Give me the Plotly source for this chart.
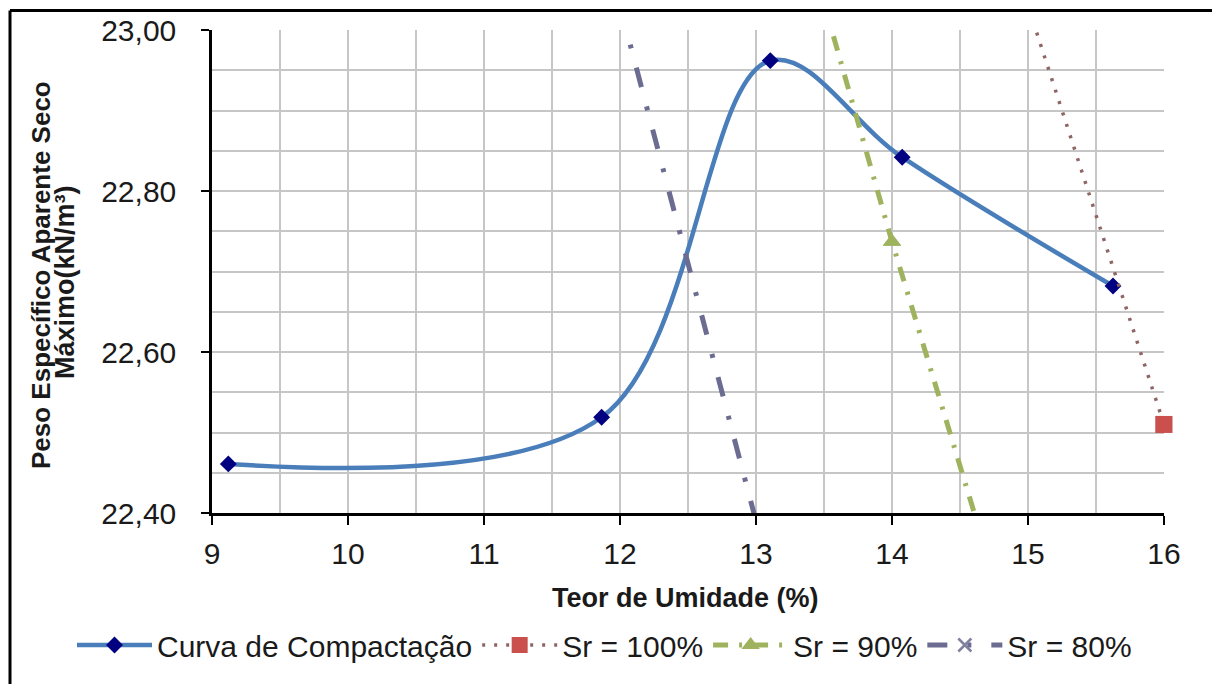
import plotly.graph_objects as go

# Curva de Compactação
w_curva = [9.12, 11.865, 13.105, 14.075, 15.625]
g_curva = [22.461, 22.519, 22.962, 22.842, 22.682]

# Saturation lines
w_sr = [12, 13, 14, 15, 16]
g_sr100 = [24.74, 24.14, 23.57, 23.03, 22.51]
g_sr90 = [23.95, 23.33, 22.737, 22.18, 21.65]
g_sr80 = [23.03, 22.39, 21.78, 21.22, 20.70]

x_range = [9, 16]
y_range = [22.4, 23.0]

FONT = "Liberation Sans, Arial, sans-serif"
L, R, T, B = 212, 48, 30, 171
PW, PH = 1212 - L - R, 684 - T - B

def px_x(px):
    return (px - L) / PW

def px_y(py):
    return (684 - B - py) / PH

fig = go.Figure()

def add_sr(name, ys, color, dash, width, symbol, msize, mcolor):
    fig.add_trace(go.Scatter(
        x=w_sr, y=ys, name=name, mode="lines+markers",
        line=dict(color=color, width=width, dash=dash),
        marker=dict(symbol=symbol, size=msize, color=mcolor,
                    line=dict(width=2.5 if symbol == "x-thin" else 0, color=mcolor)),
        cliponaxis=True,
    ))
    xs_in = [x for x, y in zip(w_sr, ys) if y_range[0] <= y <= y_range[1]]
    ys_in = [y for y in ys if y_range[0] <= y <= y_range[1]]
    fig.add_trace(go.Scatter(
        x=xs_in, y=ys_in, mode="markers", showlegend=False, hoverinfo="skip",
        marker=dict(symbol=symbol, size=msize, color=mcolor),
        cliponaxis=False,
    ))

fig.add_trace(go.Scatter(
    x=w_curva, y=g_curva, name="Curva de Compactação", mode="lines+markers",
    line=dict(color="#4a7ebb", width=4.5, shape="spline", smoothing=1.0),
    marker=dict(symbol="diamond", size=13, color="#000080"),
    cliponaxis=False,
))
add_sr("Sr = 100%", g_sr100, "#8e6464", "3px,9px", 3.5, "square", 17, "#c9504d")
add_sr("Sr = 90%", g_sr90, "#9fb35f", "15px,11px,3px,11px", 5, "triangle-up", 16, "#9fb35f")
add_sr("Sr = 80%", g_sr80, "#6c6c92", "20px,20px,4px,20px", 5, "x-thin", 13, "#8080a0")

fig.update_layout(
    width=1212, height=684,
    margin=dict(l=L, r=R, t=T, b=B, autoexpand=False),
    paper_bgcolor="white", plot_bgcolor="white",
    separators=", ",
    font=dict(family=FONT, size=30, color="#1a1a1a"),
    showlegend=True,
    legend=dict(orientation="h", xref="paper", yref="paper",
                x=px_x(72), xanchor="left", y=px_y(645), yanchor="middle",
                font=dict(size=30, family=FONT), itemwidth=75,
                tracegroupgap=0, bgcolor="rgba(0,0,0,0)"),
    xaxis=dict(range=x_range, dtick=1, tick0=9, showgrid=True,
               gridcolor="#c6c6c6", gridwidth=2,
               minor=dict(dtick=0.5, showgrid=True, gridcolor="#c6c6c6", gridwidth=2),
               showline=True, linecolor="black", linewidth=2.5,
               ticks="outside", ticklen=9, tickcolor="black", tickwidth=2,
               ticklabelstandoff=3,
               zeroline=False, tickfont=dict(size=30, family=FONT)),
    yaxis=dict(range=y_range, dtick=0.2, tick0=22.4, tickformat=".2f", showgrid=True,
               gridcolor="#c6c6c6", gridwidth=2,
               minor=dict(dtick=0.05, showgrid=True, gridcolor="#c6c6c6", gridwidth=2),
               showline=True, linecolor="black", linewidth=2.5,
               ticks="outside", ticklen=8, tickcolor="black", tickwidth=2,
               ticklabelstandoff=19,
               zeroline=False, tickfont=dict(size=30, family=FONT)),
    annotations=[
        dict(text="<b>Peso Específico Aparente Seco</b>",
             xref="paper", yref="paper", x=px_x(41), y=px_y(275),
             textangle=-90, showarrow=False,
             font=dict(size=26, family=FONT, color="#1a1a1a"),
             xanchor="center", yanchor="middle"),
        dict(text="<b>Máximo(kN/m³)</b>",
             xref="paper", yref="paper", x=px_x(65), y=px_y(282),
             textangle=-90, showarrow=False,
             font=dict(size=27, family=FONT, color="#1a1a1a"),
             xanchor="center", yanchor="middle"),
        dict(text="<b>Teor de Umidade (%)</b>",
             xref="paper", yref="paper", x=px_x(685), y=px_y(598),
             showarrow=False,
             font=dict(size=27, family=FONT, color="#1a1a1a"),
             xanchor="center", yanchor="middle"),
    ],
    shapes=[
        dict(type="line", xref="paper", yref="paper",
             x0=px_x(10), x1=px_x(1300), y0=px_y(10.5), y1=px_y(10.5),
             line=dict(color="black", width=3)),
        dict(type="line", xref="paper", yref="paper",
             x0=px_x(10), x1=px_x(10), y0=px_y(10.5), y1=px_y(800),
             line=dict(color="black", width=3)),
    ],
)

fig.write_html("out.html")
